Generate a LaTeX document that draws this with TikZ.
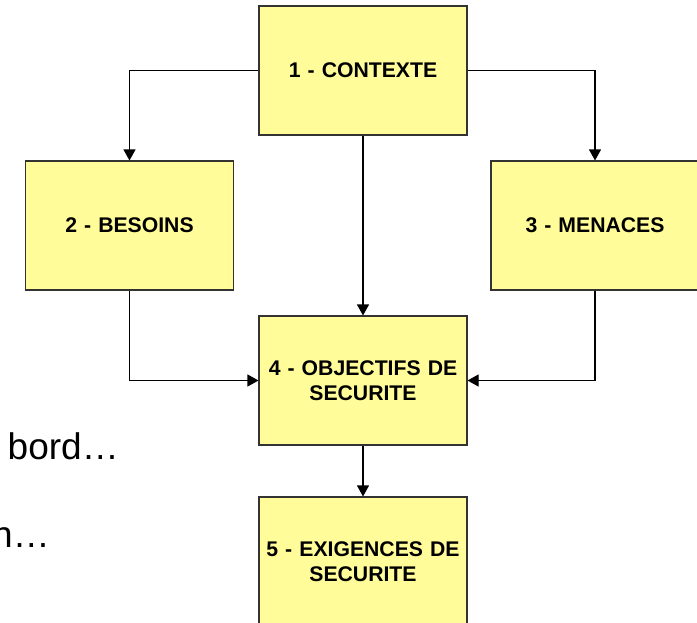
\documentclass[tikz,border=0pt]{standalone}
\usepackage{fontspec}
\setmainfont{Liberation Sans}
\usetikzlibrary{arrows.meta}
\definecolor{boxfill}{HTML}{FFFC99}
\definecolor{boxline}{HTML}{333333}
\tikzset{
  stagebox/.style={draw=boxline, fill=boxfill, line width=1.1pt,
    minimum width=208pt, minimum height=129pt, inner sep=2pt,
    align=center, text width=204pt,
    font=\fontsize{21.2pt}{24.5pt}\selectfont\bfseries},
  link/.style={draw=black, line width=1.1pt,
    -{Triangle[length=11pt,width=12pt]}},
  backtext/.style={font=\fontsize{37pt}{44pt}\selectfont, inner sep=0pt}
}
\begin{document}
\begin{tikzpicture}[x=1pt,y=-1pt]
\useasboundingbox (0,0) rectangle (697,622);
\clip (0,0) rectangle (697,622);
% partial lines of body text behind the chart
\node[backtext, anchor=base east] (t1) at (119,459) {bord…};
\node[backtext, anchor=base east] (t2) at (50,547) {n…};
% stages
\node[stagebox] (b1) at (363,70.5) {1 - CONTEXTE};
\node[stagebox] (b2) at (129.5,225.5) {2 - BESOINS};
\node[stagebox] (b3) at (595,225.5) {3 - MENACES};
\node[stagebox] (b4) at (363,380.5) {4 - OBJECTIFS DE\\SECURITE};
\node[stagebox] (b5) at (363,561.5) {5 - EXIGENCES DE\\SECURITE};
% flows
\draw[link] (b1.west) -| (b2.north);
\draw[link] (b1.east) -| (b3.north);
\draw[link] (b1.south) -- (b4.north);
\draw[link] (b2.south) |- (b4.west);
\draw[link] (b3.south) |- (b4.east);
\draw[link] (b4.south) -- (b5.north);
\end{tikzpicture}
\end{document}
